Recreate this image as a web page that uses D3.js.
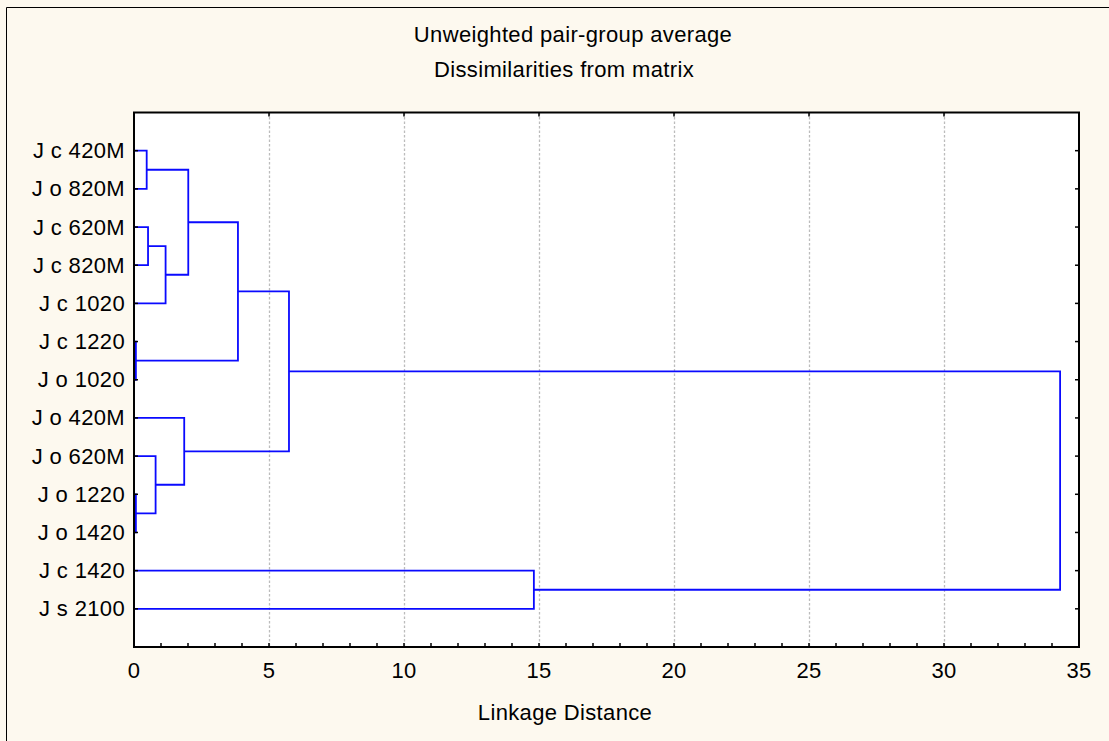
<!DOCTYPE html>
<html>
<head>
<meta charset="utf-8">
<script src="https://cdn.jsdelivr.net/npm/d3@7"></script>
<style>
  html, body { margin: 0; padding: 0; background: #fdf9ef; }
  svg { display: block; }
  text { font-family: "Liberation Sans", Arial, sans-serif; fill: #000; font-size: 22px; letter-spacing: 0.35px; }
</style>
</head>
<body>
<svg id="chart" width="1109" height="741"></svg>
<script>
// Leaves, in the order they appear from top to bottom
const leafLabels = [
  "J c 420M", "J o 820M", "J c 620M", "J c 820M", "J c 1020", "J c 1220",
  "J o 1020", "J o 420M", "J o 620M", "J o 1220", "J o 1420", "J c 1420", "J s 2100"
];

// Agglomeration steps: [first member, second member, linkage distance].
// Indices 0..12 are leaves; each step creates cluster 13, 14, ... in turn.
const mergeA = [5, 9, 0, 2, 8, 16, 7, 15, 20, 21, 11, 22];
const mergeB = [6, 10, 1, 3, 14, 4, 17, 18, 13, 19, 12, 23];
const mergeDist = [0.07, 0.07, 0.47, 0.52, 0.80, 1.17, 1.86, 2.01, 3.85, 5.74, 14.81, 34.3];

const xTicks = [0, 5, 10, 15, 20, 25, 30, 35];
const xMinorTicks = d3.range(0, 36, 1);

const titleLines = ["Unweighted pair-group average", "Dissimilarities from matrix"];
const xAxisTitle = "Linkage Distance";

const svg = d3.select("#chart");
const W = 1109, H = 741;
const plot = { left: 134, right: 1079, top: 112.5, bottom: 647 };

// page background and outer frame edges
svg.append("rect").attr("width", W).attr("height", H).attr("fill", "#fdf9ef");
svg.append("path")
  .attr("d", `M6.5,${H} V7.5 H${W}`)
  .attr("fill", "none").attr("stroke", "#000").attr("stroke-width", 1);

// titles
svg.append("text").attr("x", 573).attr("y", 42).attr("text-anchor", "middle")
  .text(titleLines[0]);
svg.append("text").attr("x", 564).attr("y", 77).attr("text-anchor", "middle")
  .text(titleLines[1]);

const x = d3.scaleLinear().domain([0, 35]).range([plot.left, plot.right]);
const y = d3.scalePoint().domain(leafLabels).range([plot.top, plot.bottom]).padding(1);

// plot area
svg.append("rect")
  .attr("x", plot.left).attr("y", plot.top)
  .attr("width", plot.right - plot.left).attr("height", plot.bottom - plot.top)
  .attr("fill", "#fff");

// vertical grid lines
svg.append("g").selectAll("line")
  .data(xTicks.filter(t => t > 0 && t < 35))
  .join("line")
  .attr("x1", d => Math.round(x(d)) + 0.5).attr("x2", d => Math.round(x(d)) + 0.5)
  .attr("y1", plot.top).attr("y2", plot.bottom)
  .attr("stroke", "#bcbcbc").attr("stroke-width", 1.3)
  .attr("stroke-dasharray", "2.5,2");

// build the tree from the merge steps
const nodes = leafLabels.map((name, i) => ({ name, dist: 0, index: i }));
mergeA.forEach((a, i) => {
  nodes.push({ children: [nodes[a], nodes[mergeB[i]]], dist: mergeDist[i] });
});
const root = d3.hierarchy(nodes[nodes.length - 1]);
root.eachAfter(n => {
  n.px = x(n.data.dist);
  n.py = n.children ? d3.mean(n.children, c => c.py) : y(n.data.name);
});

// dendrogram links: each cluster drawn as a bracket joining its two members
svg.append("g").selectAll("path")
  .data(root.descendants().filter(n => n.children))
  .join("path")
  .attr("d", n => {
    const [c1, c2] = n.children;
    return `M${c1.px},${c1.py} H${n.px} V${c2.py} H${c2.px}`;
  })
  .attr("fill", "none").attr("stroke", "#0a0aff").attr("stroke-width", 1.8);

// axes (inward ticks on all four sides)
const axisG = svg.append("g").attr("stroke", "#000");
const tickLen = 4;
// bottom minor + major ticks
axisG.append("g").selectAll("line").data(xMinorTicks).join("line")
  .attr("x1", d => x(d)).attr("x2", d => x(d))
  .attr("y1", plot.bottom).attr("y2", plot.bottom - tickLen).attr("stroke-width", 1.5);
// top major ticks
axisG.append("g").selectAll("line").data(xTicks).join("line")
  .attr("x1", d => x(d)).attr("x2", d => x(d))
  .attr("y1", plot.top).attr("y2", plot.top + tickLen).attr("stroke-width", 1.5);
// left and right ticks at each leaf
axisG.append("g").selectAll("line").data(leafLabels).join("line")
  .attr("x1", plot.left).attr("x2", plot.left + tickLen)
  .attr("y1", d => y(d)).attr("y2", d => y(d)).attr("stroke-width", 1.5);
axisG.append("g").selectAll("line").data(leafLabels).join("line")
  .attr("x1", plot.right).attr("x2", plot.right - tickLen)
  .attr("y1", d => y(d)).attr("y2", d => y(d)).attr("stroke-width", 1.5);
// frame
axisG.append("rect")
  .attr("x", plot.left).attr("y", plot.top)
  .attr("width", plot.right - plot.left).attr("height", plot.bottom - plot.top)
  .attr("fill", "none").attr("stroke-width", 2);

// x tick labels
svg.append("g").selectAll("text").data(xTicks).join("text")
  .attr("x", d => x(d)).attr("y", 678)
  .attr("text-anchor", "middle")
  .text(d => d);

// leaf labels
svg.append("g").selectAll("text").data(leafLabels).join("text")
  .attr("x", 125).attr("y", d => y(d) + 7.5)
  .attr("text-anchor", "end")
  .text(d => d);

// x axis title
svg.append("text").attr("x", 565).attr("y", 720).attr("text-anchor", "middle")
  .text(xAxisTitle);
</script>
</body>
</html>
